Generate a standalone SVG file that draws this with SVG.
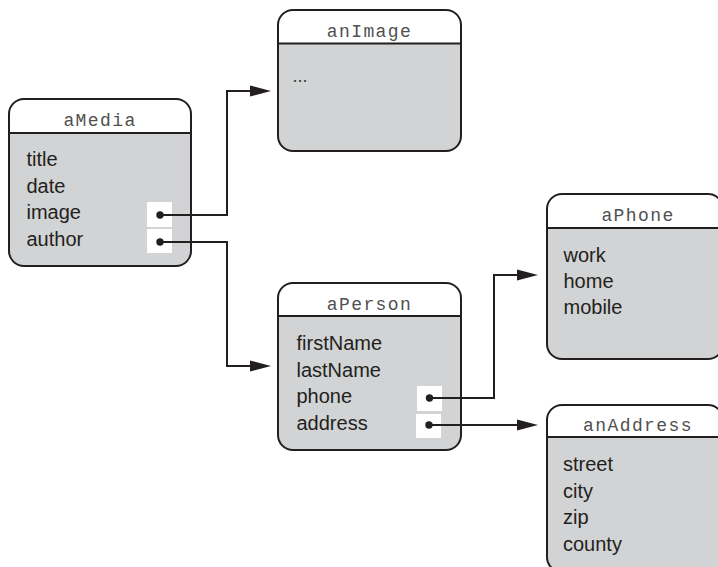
<svg xmlns="http://www.w3.org/2000/svg" width="718" height="567" viewBox="0 0 718 567">
  <style>
    .body { fill: #d1d3d4; stroke: none; }
    .head { fill: #ffffff; stroke: none; }
    .frame { fill: none; stroke: #231f20; stroke-width: 2; }
    .rule { stroke: #231f20; stroke-width: 2; }
    .title { font-family: "Liberation Mono", "DejaVu Sans Mono", monospace; font-size: 18px; letter-spacing: 1.4px; fill: #505050; text-anchor: middle; }
    .field { font-family: "Liberation Sans", Arial, sans-serif; font-size: 20px; fill: #231f20; }
    .port { fill: #ffffff; }
    .dot { fill: #231f20; }
    .wire { fill: none; stroke: #231f20; stroke-width: 2; }
  </style>
  <defs>
    <marker id="arrow" markerUnits="userSpaceOnUse" markerWidth="22" markerHeight="12" viewBox="0 -6 22 12" refX="0" refY="0" orient="auto">
      <path d="M0,-5.5 L21,0 L0,5.5 Z" fill="#231f20"/>
    </marker>
  </defs>

  <!-- object boxes: grey body, white header band, divider rule, rounded outline -->
  <g id="aMedia">
    <rect class="body" x="9" y="99" width="182" height="167" rx="15"/>
    <path class="head" d="M9,133 V114 A15,15 0 0 1 24,99 H176 A15,15 0 0 1 191,114 V133 Z"/>
    <line class="rule" x1="9" y1="133" x2="191" y2="133"/>
    <rect class="frame" x="9" y="99" width="182" height="167" rx="15"/>
    <text class="title" x="100" y="125.5">aMedia</text>
    <text class="field" x="26.5" y="166">title</text>
    <text class="field" x="26.5" y="192.5">date</text>
    <text class="field" x="26.5" y="219">image</text>
    <text class="field" x="26.5" y="245.5">author</text>
    <rect class="port" x="147" y="202" width="25" height="25"/>
    <rect class="port" x="147" y="229" width="25" height="24"/>
    <circle class="dot" cx="160" cy="215" r="3.7"/>
    <circle class="dot" cx="160" cy="242" r="3.7"/>
  </g>

  <g id="anImage">
    <rect class="body" x="278" y="10" width="183" height="141" rx="15"/>
    <path class="head" d="M278,43.5 V25 A15,15 0 0 1 293,10 H446 A15,15 0 0 1 461,25 V43.5 Z"/>
    <line class="rule" x1="278" y1="43.5" x2="461" y2="43.5"/>
    <rect class="frame" x="278" y="10" width="183" height="141" rx="15"/>
    <text class="title" x="369.5" y="36.5">anImage</text>
    <text class="field" x="292.5" y="82" style="font-size:18px;fill:#3a3a3a">...</text>
  </g>

  <g id="aPerson">
    <rect class="body" x="278" y="283" width="183" height="167" rx="15"/>
    <path class="head" d="M278,316 V298 A15,15 0 0 1 293,283 H446 A15,15 0 0 1 461,298 V316 Z"/>
    <line class="rule" x1="278" y1="316" x2="461" y2="316"/>
    <rect class="frame" x="278" y="283" width="183" height="167" rx="15"/>
    <text class="title" x="369.5" y="310">aPerson</text>
    <text class="field" x="296.5" y="350">firstName</text>
    <text class="field" x="296.5" y="376.5">lastName</text>
    <text class="field" x="296.5" y="403">phone</text>
    <text class="field" x="296.5" y="430">address</text>
    <rect class="port" x="417" y="386" width="25" height="25"/>
    <rect class="port" x="416" y="414" width="25" height="24"/>
    <circle class="dot" cx="429.5" cy="398" r="3.7"/>
    <circle class="dot" cx="429" cy="425" r="3.7"/>
  </g>

  <g id="aPhone">
    <rect class="body" x="547" y="194" width="176" height="165" rx="15"/>
    <path class="head" d="M547,228 V209 A15,15 0 0 1 562,194 H708 A15,15 0 0 1 723,209 V228 Z"/>
    <line class="rule" x1="547" y1="228" x2="723" y2="228"/>
    <rect class="frame" x="547" y="194" width="176" height="165" rx="15"/>
    <text class="title" x="638" y="220.5">aPhone</text>
    <text class="field" x="563.5" y="261.5">work</text>
    <text class="field" x="563.5" y="288">home</text>
    <text class="field" x="563.5" y="314">mobile</text>
  </g>

  <g id="anAddress">
    <rect class="body" x="547" y="405" width="176" height="167" rx="15"/>
    <path class="head" d="M547,437 V420 A15,15 0 0 1 562,405 H708 A15,15 0 0 1 723,420 V437 Z"/>
    <line class="rule" x1="547" y1="437" x2="723" y2="437"/>
    <rect class="frame" x="547" y="405" width="176" height="167" rx="15"/>
    <text class="title" x="638" y="431">anAddress</text>
    <text class="field" x="563" y="471">street</text>
    <text class="field" x="563" y="497.5">city</text>
    <text class="field" x="563" y="524">zip</text>
    <text class="field" x="563" y="550.5">county</text>
  </g>

  <!-- reference links from ports to target objects -->
  <g id="connectors">
    <path class="wire" d="M160,215 H227 V91 H250" marker-end="url(#arrow)"/>
    <path class="wire" d="M160,242 H227 V366 H250" marker-end="url(#arrow)"/>
    <path class="wire" d="M429.5,398 H494 V275 H517" marker-end="url(#arrow)"/>
    <path class="wire" d="M429,425 H517" marker-end="url(#arrow)"/>
  </g>
</svg>
